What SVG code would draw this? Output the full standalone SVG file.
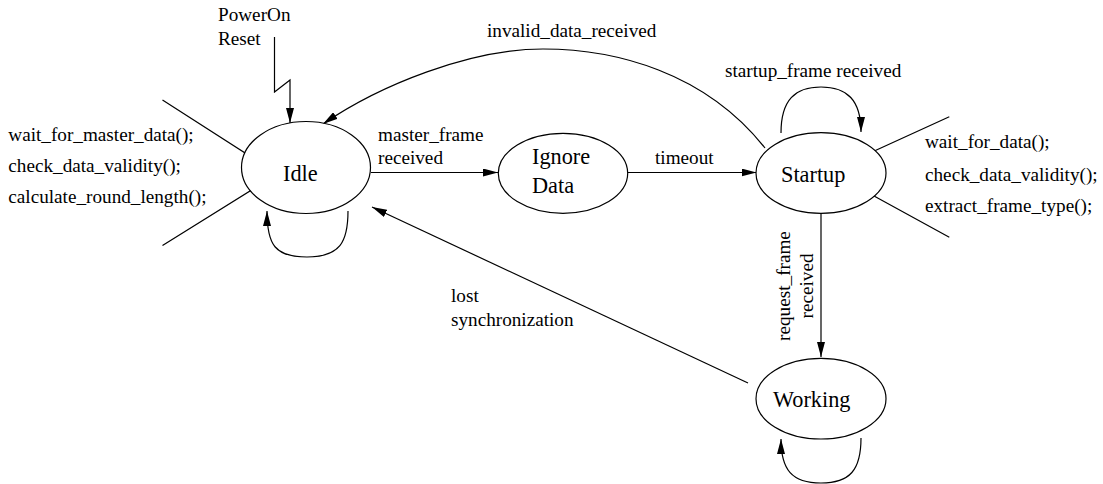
<svg xmlns="http://www.w3.org/2000/svg" width="1103" height="484" viewBox="0 0 1103 484">
<style>
.n{fill:#fff;stroke:#000;stroke-width:1.2}
.c{fill:none;stroke:#000;stroke-width:1.2}
.ar{marker-end:url(#ah)}
.t{font-family:"Liberation Serif","Times New Roman",serif;font-size:19.2px;fill:#000}
.nt{font-family:"Liberation Serif","Times New Roman",serif;font-size:22.3px;fill:#000}
</style>
<defs>
<marker id="ah" markerWidth="16" markerHeight="8" refX="15" refY="4" orient="auto" markerUnits="userSpaceOnUse">
<path d="M0,0 L15,4 L0,8 z" fill="#000"/>
</marker>
</defs>
<rect width="1103" height="484" fill="#fff"/>
<g id="connectors">
<path class="c ar" d="M274.5,37 L274.5,92 L290,80 L290,123"/>
<path class="c ar" d="M348,211 C348,242 340,257 307,257 C275,257 267,245 267,211"/>
<path class="c ar" d="M371,172.5 L498,172.5"/>
<path class="c ar" d="M628,172.5 L756.5,172.5"/>
<path class="c ar" d="M765,148 C705,72 615,49 543,49 C470,49 380,85 323,124"/>
<path class="c ar" d="M781,133 C781,100 795,87 821,87 C847,87 861,100 861,132"/>
<path class="c ar" d="M821,213.5 L821,357"/>
<path class="c ar" d="M748,383 L372,207"/>
<path class="c ar" d="M861,438 C861,470 850,483 821,483 C792,483 781,470 781,439"/>
<path class="c" d="M162.5,100 L265.5,166 M265,181.7 L162.5,245.5"/>
<path class="c" d="M861.7,156.7 L949.3,116.7 M861.7,189.3 L949.3,237.3"/>
</g>
<g id="idle">
<ellipse class="n" cx="306" cy="167.5" rx="64.5" ry="46"/>
<text class="nt" x="283" y="181">Idle</text>
</g>
<g id="ignore-data">
<ellipse class="n" cx="563" cy="173.3" rx="64.7" ry="40"/>
<text class="nt" x="532" y="164">Ignore</text>
<text class="nt" x="532" y="192.5">Data</text>
</g>
<g id="startup">
<ellipse class="n" cx="821" cy="173" rx="65" ry="40.3"/>
<text class="nt" x="781" y="181.7">Startup</text>
</g>
<g id="working">
<ellipse class="n" cx="821" cy="398.7" rx="65" ry="40.3"/>
<text class="nt" x="773" y="406.7">Working</text>
</g>
<g id="labels">
<text class="t" x="218" y="21">PowerOn</text>
<text class="t" x="218" y="45">Reset</text>
<text class="t" x="8.3" y="141">wait_for_master_data();</text>
<text class="t" x="8.3" y="172">check_data_validity();</text>
<text class="t" x="8.3" y="203">calculate_round_length();</text>
<text class="t" x="378" y="140.7">master_frame</text>
<text class="t" x="378" y="164">received</text>
<text class="t" x="655" y="164">timeout</text>
<text class="t" x="487" y="36.7">invalid_data_received</text>
<text class="t" x="725" y="76.7">startup_frame received</text>
<text class="t" x="925" y="148">wait_for_data();</text>
<text class="t" x="925" y="180.5">check_data_validity();</text>
<text class="t" x="925" y="212">extract_frame_type();</text>
<text class="t" x="451" y="301.7">lost</text>
<text class="t" x="451" y="326">synchronization</text>
<text class="t" text-anchor="middle" transform="translate(790,286) rotate(-90)">request_frame</text>
<text class="t" text-anchor="middle" transform="translate(813,286) rotate(-90)">received</text>
</g>
</svg>
